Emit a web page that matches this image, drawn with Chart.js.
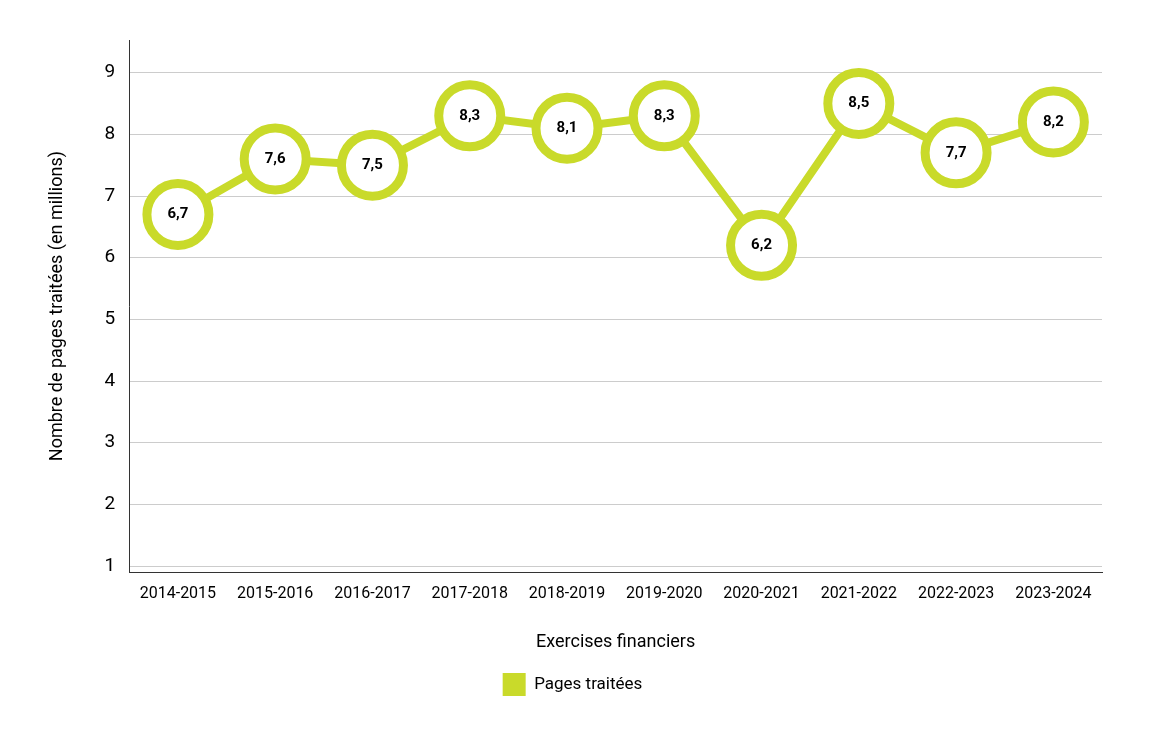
<!DOCTYPE html>
<html>
<head>
<meta charset="utf-8">
<script src="https://cdn.jsdelivr.net/npm/chart.js@4"></script>
<style>
  body { margin: 0; background: #fff; }
  #wrap { width: 1170px; height: 730px; }
</style>
</head>
<body>
<div id="wrap"><canvas id="chart"></canvas></div>
<script>
const years = ['2014-2015', '2015-2016', '2016-2017', '2017-2018', '2018-2019',
               '2019-2020', '2020-2021', '2021-2022', '2022-2023', '2023-2024'];
const pages = [6.7, 7.6, 7.5, 8.3, 8.1, 8.3, 6.2, 8.5, 7.7, 8.2];
const yTicks = [1, 2, 3, 4, 5, 6, 7, 8, 9];

const green = '#c9da2a';
const font = 'Roboto, sans-serif';

// write the value inside each circle
const valueLabels = {
    id: 'valueLabels',
    afterDatasetsDraw(chart) {
        const ctx = chart.ctx;
        const meta = chart.getDatasetMeta(0);
        ctx.save();
        ctx.font = 'bold 15px ' + font;
        ctx.fillStyle = '#000';
        ctx.textAlign = 'center';
        ctx.textBaseline = 'middle';
        meta.data.forEach((pt, i) => {
            ctx.fillText(pages[i].toFixed(1).replace('.', ','), pt.x, pt.y);
        });
        ctx.restore();
    }
};

new Chart(document.getElementById('chart'), {
    type: 'line',
    data: {
        labels: years,
        datasets: [{
            label: 'Pages traitées',
            data: pages,
            borderColor: green,
            backgroundColor: green,
            borderWidth: 8,
            pointRadius: 31,
            pointHoverRadius: 31,
            pointBorderWidth: 9,
            pointBackgroundColor: '#fff',
            pointBorderColor: green
        }]
    },
    options: {
        responsive: true,
        maintainAspectRatio: false,
        animation: false,
        layout: { padding: { left: 43, right: 68, top: 38, bottom: 24 } },
        plugins: {
            tooltip: { enabled: false },
            legend: {
                position: 'bottom',
                labels: {
                    font: { family: font, size: 17 },
                    color: '#000',
                    boxWidth: 23,
                    boxHeight: 23,
                    padding: 16,
                    generateLabels: () => [{
                        text: 'Pages traitées', fillStyle: green, strokeStyle: green, lineWidth: 0
                    }]
                }
            }
        },
        scales: {
            x: {
                offset: true,
                grid: { display: false, drawTicks: false },
                border: { color: '#333', width: 1 },
                ticks: { color: '#000', font: { family: font, size: 16 }, padding: 12 },
                title: { display: true, text: 'Exercises financiers', color: '#000',
                         font: { family: font, size: 18 }, padding: { top: 16 } }
            },
            y: {
                min: 0.9,
                max: 9.53,
                afterBuildTicks: axis => { axis.ticks = yTicks.map(v => ({ value: v })); },
                grid: { color: '#cccccc', drawTicks: false },
                border: { color: '#333', width: 1 },
                ticks: { color: '#000', font: { family: font, size: 19 }, padding: 14 },
                title: { display: true, text: 'Nombre de pages traitées (en millions)', color: '#000',
                         font: { family: font, size: 18 }, padding: { bottom: 22 } }
            }
        }
    },
    plugins: [valueLabels]
});
</script>
</body>
</html>
